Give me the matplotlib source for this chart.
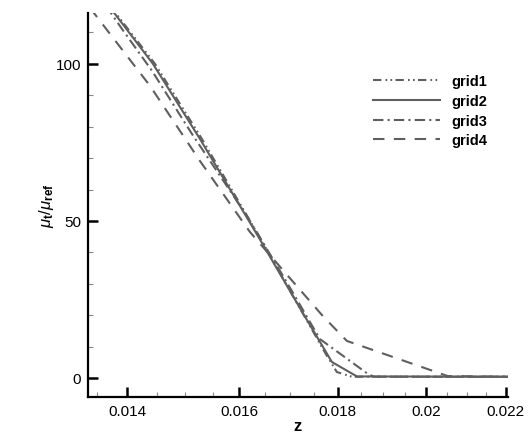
import matplotlib
matplotlib.use('Agg')
import matplotlib.pyplot as plt
from matplotlib.ticker import FixedLocator, NullFormatter, MultipleLocator

plt.rcParams['font.family'] = ['Liberation Sans', 'DejaVu Sans']
plt.rcParams['mathtext.fontset'] = 'custom'
plt.rcParams['mathtext.rm'] = 'Liberation Sans'
plt.rcParams['mathtext.it'] = 'Liberation Sans:italic'
plt.rcParams['mathtext.bf'] = 'Liberation Sans:bold'

# values
z_grid1 = [0.013714, 0.014471, 0.015305, 0.016383, 0.017748, 0.017982, 0.018307, 0.0221]
mu_grid1 = [118.5, 100.0, 76.1, 45.2, 7.6, 1.9, 0.4, 0.4]

z_grid2 = [0.013681, 0.014436, 0.015269, 0.016364, 0.017205, 0.017875, 0.018417, 0.0221]
mu_grid2 = [118.8, 100.0, 76.1, 45.2, 22.3, 5.1, 0.5, 0.4]

z_grid3 = [0.013648, 0.013912, 0.014419, 0.015124, 0.016150, 0.016900, 0.017621, 0.018660, 0.018794, 0.0221]
mu_grid3 = [118.5, 111.1, 97.8, 77.7, 51.6, 31.5, 12.4, 1.3, 0.4, 0.4]

z_grid4 = [0.013391, 0.014385, 0.015269, 0.016208, 0.016840, 0.017684, 0.018198, 0.020530, 0.0221]
mu_grid4 = [117.8, 93.0, 69.1, 46.5, 34.7, 19.7, 11.8, 0.6, 0.4]

labels = ['grid1', 'grid2', 'grid3', 'grid4']
x_ticks = [0.014, 0.016, 0.018, 0.02, 0.022]
x_ticklabels = ['0.014', '0.016', '0.018', '0.02', '0.022']
x_minor = [0.0135, 0.0145, 0.015, 0.0155, 0.0165, 0.017, 0.0175,
           0.0185, 0.019, 0.0195, 0.0205, 0.021, 0.0215]

fig = plt.figure(figsize=(5.29, 4.35), dpi=100)
ax = fig.add_axes([88/529, 1-398/435, 420/529, 384/435])

col = '#5f5f5f'
lw = 1.5
ax.plot(z_grid1, mu_grid1, color=col, lw=lw, dashes=(4, 2, 0.8, 1.6, 0.8, 1.6), label=labels[0])
ax.plot(z_grid2, mu_grid2, color=col, lw=lw, ls='-', label=labels[1])
ax.plot(z_grid3, mu_grid3, color=col, lw=lw, dashes=(5, 2, 1, 2), label=labels[2])
ax.plot(z_grid4, mu_grid4, color=col, lw=lw, dashes=(5.5, 4.5), label=labels[3])

ax.set_xscale('log')
ax.set_xlim(0.013358, 0.02206)
ax.set_ylim(-6.05, 116.2)
ax.xaxis.set_major_locator(FixedLocator(x_ticks))
ax.set_xticklabels(x_ticklabels)
ax.xaxis.set_minor_locator(FixedLocator(x_minor))
ax.xaxis.set_minor_formatter(NullFormatter())
ax.yaxis.set_major_locator(FixedLocator([0, 50, 100]))
ax.yaxis.set_minor_locator(MultipleLocator(10))

for s in ['top', 'right']:
    ax.spines[s].set_visible(False)
for s in ['left', 'bottom']:
    ax.spines[s].set_linewidth(1.6)

ax.tick_params(which='major', direction='in', length=7, width=1.8, labelsize=11, pad=5)
ax.tick_params(which='minor', direction='in', length=3.5, width=0.8, color='#888888')

ax.set_xlabel('z', fontsize=12, fontweight='bold', labelpad=0)
ax.set_ylabel(r'$\mu_{\mathbf{t}}/\mu_{\mathbf{ref}}$', fontsize=12, labelpad=0)

ax.legend(loc='upper left', bbox_to_anchor=(373/529, 1-75/435), bbox_transform=fig.transFigure,
          frameon=False, prop={'weight': 'bold', 'size': 10.5}, handlelength=4.6,
          handletextpad=0.8, labelspacing=0.4, borderpad=0, borderaxespad=0)

fig.savefig('out.png', dpi=100)
